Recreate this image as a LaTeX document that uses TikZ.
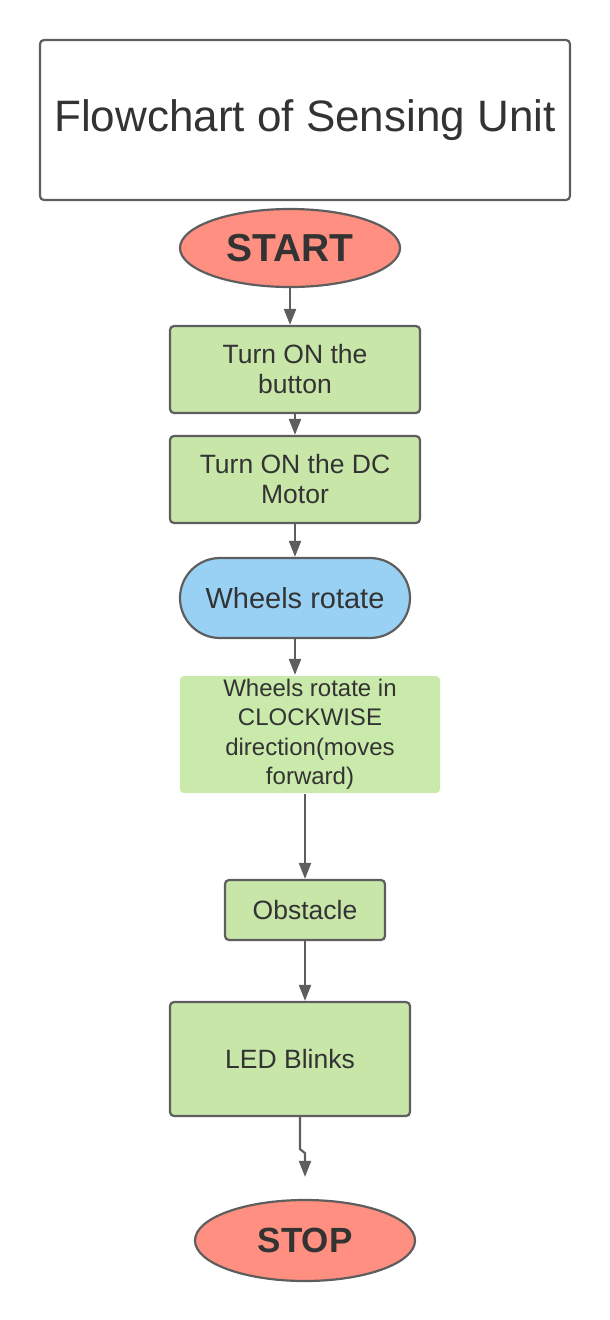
\documentclass[tikz,border=0pt]{standalone}
\usepackage{fontspec}
\setmainfont{Liberation Sans}
\usepackage{tikz}
\usetikzlibrary{arrows.meta,shapes.geometric,calc}
\definecolor{edgegray}{HTML}{5E5E5E}
\definecolor{txtgray}{HTML}{333333}
\definecolor{boxgreen}{HTML}{C7E6A8}
\definecolor{palegreen}{HTML}{C9EAAA}
\definecolor{termred}{HTML}{FF8F80}
\definecolor{loopblue}{HTML}{99D1F5}
\tikzset{
  base/.style={draw=edgegray,line width=2.2pt,text=txtgray,align=center,inner sep=0pt},
  titlebox/.style={base,fill=white,rounded corners=4pt,minimum width=530pt,minimum height=160pt,
    font=\fontsize{44}{50}\selectfont},
  terminal/.style={base,ellipse,fill=termred,minimum width=220pt,minimum height=78pt,
    font=\fontsize{39}{44}\selectfont\bfseries},
  process/.style={base,fill=boxgreen,rounded corners=4pt,minimum width=250pt,minimum height=87pt,
    font=\fontsize{26.5}{30}\selectfont},
  stadium/.style={base,fill=loopblue,rounded corners=40pt,minimum width=230pt,minimum height=80pt,
    font=\fontsize{29}{32}\selectfont},
  flow/.style={draw=edgegray,line width=2.2pt,-{Triangle[length=16pt,width=12pt]}},
}
\begin{document}
\begin{tikzpicture}[x=1pt,y=-1pt]
  \useasboundingbox (0,0) rectangle (610,1320);

  % Title
  \node[titlebox] (title) at (305,120) {\raisebox{5pt}{Flowchart of Sensing Unit}};

  % Steps
  \node[terminal] (start) at (290,248) {START};
  \node[process] (button) at (295,369.5) {Turn ON the\\button};
  \node[process] (motor) at (295,479.5) {Turn ON the DC\\Motor};
  \node[stadium] (rotate) at (295,598) {Wheels rotate};
  \node[process,draw=none,fill=palegreen,minimum width=260pt,minimum height=117pt,
        font=\fontsize{24}{29.5}\selectfont] (clockwise) at (310,734.5)
        {Wheels rotate in\\CLOCKWISE\\direction(moves\\forward)};
  \node[process,minimum width=160pt,minimum height=60pt] (obstacle) at (305,910) {Obstacle};
  \node[process,minimum width=240pt,minimum height=114pt] (led) at (290,1059) {LED Blinks};
  \node[terminal,minimum height=81pt,font=\fontsize{35}{40}\selectfont\bfseries] (stop) at (305,1240.5) {STOP};

  % Arrows
  \draw[flow] (start.south) -- (start.south |- button.north);
  \draw[flow] (motor.north |- button.south) -- (motor.north);
  \draw[flow] (motor.south) -- (rotate.north);
  \draw[flow] (rotate.south) -- (rotate.south |- clockwise.north);
  \draw[flow] (obstacle.north |- clockwise.south) -- (obstacle.north);
  \draw[flow] (obstacle.south) -- (obstacle.south |- led.north);

  % Kinked arrow
  \coordinate (kink) at ($(led.south)+(10,32)$);
  \coordinate (tip) at ($(stop.north)+(0,-22)$);
  \draw[flow] ($(led.south)+(10,0)$) -- (kink) -- ($(kink)+(5,4)$) -- (tip);
\end{tikzpicture}
\end{document}
